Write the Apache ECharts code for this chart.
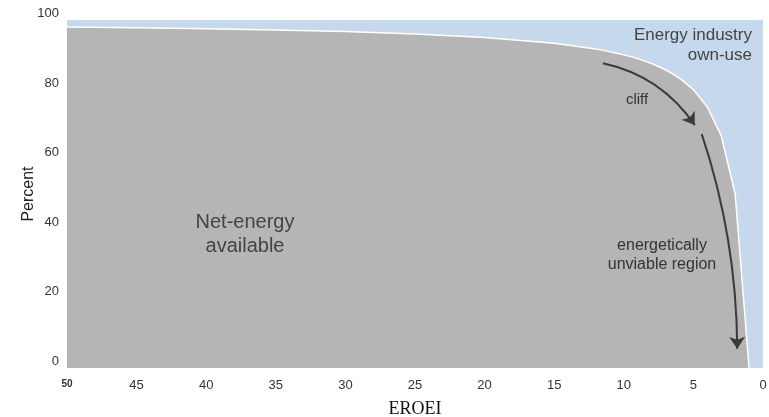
<!DOCTYPE html>
<html>
<head>
<meta charset="utf-8">
<script src="https://cdn.jsdelivr.net/npm/echarts@6/dist/echarts.min.js"></script>
<style>html,body{margin:0;padding:0;background:#fff}#c{width:769px;height:417px}</style>
</head>
<body>
<div id="c"></div>
<script>
// EROEI values and net energy available (percent)
var eroei = [1, 2, 3, 4, 5, 6, 7, 8, 9, 10, 12, 15, 20, 25, 30, 35, 40, 45, 50];
var netEnergy = [0, 50, 66.7, 75, 80, 83.3, 85.7, 87.5, 88.9, 90, 91.7, 93.3, 95, 96, 96.7, 97.1, 97.5, 97.8, 98];
// Annotation arrows: [startEROEI, startPct, endEROEI, endPct]
var cliffArrow = [11.5, 87.6, 4.9, 69.8];
var unviableArrow = [4.4, 67.2, 1.85, 5.5];
var xTicks = [0, 5, 10, 15, 20, 25, 30, 35, 40, 45, 50];
var yTicks = [0, 20, 40, 60, 80, 100];

var chart = echarts.init(document.getElementById('c'));
var font = '"Liberation Sans", Arial, sans-serif';
var txt = '#444';
chart.setOption({
  animation: false,
  grid: {left: 67, right: 6, top: 20, bottom: 49, show: true, backgroundColor: '#c5d8ec', borderWidth: 0,
         containLabel: false, outerBoundsMode: 'none'},
  xAxis: {
    type: 'value', inverse: true, min: 0, max: 50, interval: 5,
    name: 'EROEI', nameLocation: 'middle', nameGap: 32, nameMoveOverlap: false,
    nameTextStyle: {fontFamily: '"Liberation Serif", "Times New Roman", serif', fontSize: 18, color: '#111'},
    axisLine: {show: false}, axisTick: {show: false}, splitLine: {show: false},
    axisLabel: {
      margin: 11, showMinLabel: true, showMaxLabel: true,
      fontFamily: font, fontSize: 13, color: '#333',
      formatter: function (v) { return v === 50 ? '{s|50}' : String(v); },
      rich: {s: {fontSize: 10, fontWeight: 'bold', color: '#333', fontFamily: font}}
    }
  },
  yAxis: {
    type: 'value', min: 0, max: 100, interval: 20,
    name: 'Percent', nameLocation: 'middle', nameGap: 30, nameRotate: 90, nameMoveOverlap: false,
    nameTextStyle: {fontFamily: font, fontSize: 16, color: '#222'},
    axisLine: {show: false}, axisTick: {show: false}, splitLine: {show: false},
    axisLabel: {margin: 8, fontFamily: font, fontSize: 13, color: '#333', verticalAlign: 'bottom', lineHeight: 13}
  },
  series: [
    {
      type: 'line', data: eroei.map(function (e, i) { return [e, netEnergy[i]]; }),
      symbol: 'none', lineStyle: {color: '#ffffff', width: 1.5},
      areaStyle: {color: '#b5b5b5', opacity: 1}, z: 2
    },
    {
      type: 'lines', coordinateSystem: 'cartesian2d', z: 5,
      symbol: ['none', 'arrow'], symbolSize: 12,
      lineStyle: {color: '#3a3a3a', width: 2, opacity: 1},
      data: [
        {coords: [[cliffArrow[0], cliffArrow[1]], [cliffArrow[2], cliffArrow[3]]], lineStyle: {curveness: 0.2}},
        {coords: [[unviableArrow[0], unviableArrow[1]], [unviableArrow[2], unviableArrow[3]]], lineStyle: {curveness: 0.08}}
      ]
    }
  ],
  graphic: [
    {type: 'text', x: 752, y: 45, z: 10, style: {text: 'Energy industry\nown-use', align: 'right', verticalAlign: 'middle', fill: txt, font: '17px ' + font, lineHeight: 20}},
    {type: 'text', x: 245, y: 234, z: 10, style: {text: 'Net-energy\navailable', align: 'center', verticalAlign: 'middle', fill: txt, font: '20px ' + font, lineHeight: 24}},
    {type: 'text', x: 637, y: 100, z: 10, style: {text: 'cliff', align: 'center', verticalAlign: 'middle', fill: '#333', font: '15px ' + font}},
    {type: 'text', x: 662, y: 255, z: 10, style: {text: 'energetically\nunviable region', align: 'center', verticalAlign: 'middle', fill: '#333', font: '16px ' + font, lineHeight: 19}}
  ]
});
</script>
</body>
</html>
